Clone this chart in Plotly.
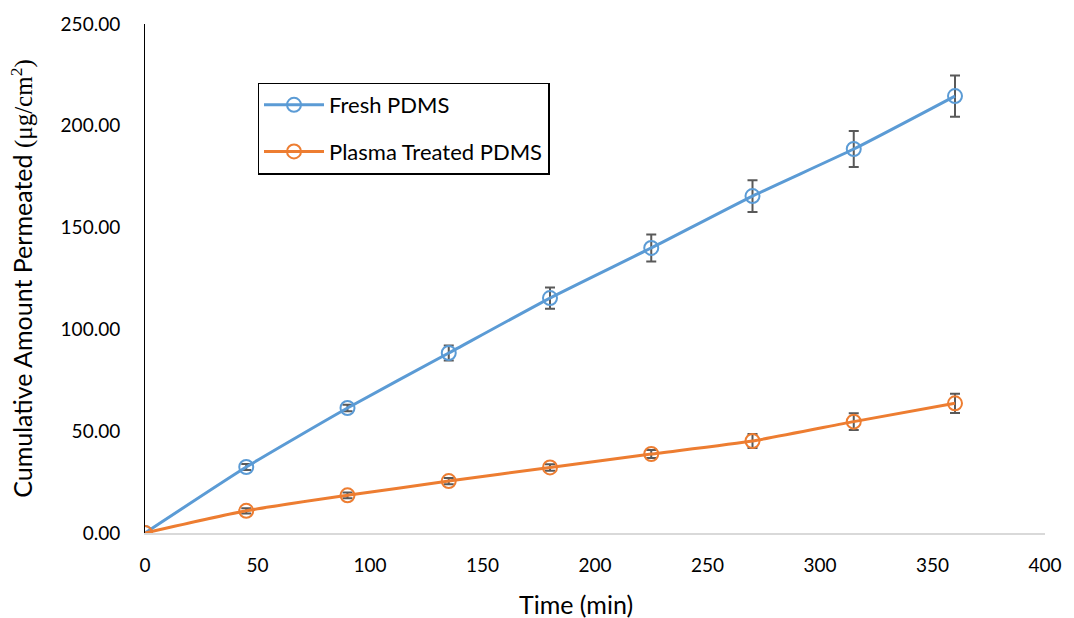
import plotly.graph_objects as go

# Sampling times (min)
time_min = [0, 45, 90, 135, 180, 225, 270, 315, 360]

# Cumulative amount permeated (ug/cm^2) and standard deviations
fresh = [0.0, 32.4, 61.4, 88.4, 115.4, 140.0, 165.5, 188.6, 214.6]
fresh_err = [0.0, 1.5, 1.6, 3.7, 5.2, 6.6, 7.8, 8.8, 10.1]

plasma = [0.0, 10.9, 18.5, 25.5, 32.2, 38.8, 45.2, 54.7, 63.7]
plasma_err = [0.0, 1.3, 1.4, 1.5, 1.6, 2.0, 3.4, 4.1, 4.7]

x_ticks = [0, 50, 100, 150, 200, 250, 300, 350, 400]
y_ticks = [0, 50, 100, 150, 200, 250]

FONT = "Lato, 'Open Sans', sans-serif"
ERR_COLOR = "#595959"


def series(name, y, err, color):
    return go.Scatter(
        x=time_min,
        y=y,
        name=name,
        legendgroup=name,
        mode="lines+markers",
        line=dict(color=color, width=3, shape="spline", smoothing=0.5),
        marker=dict(symbol="circle-open", size=14, color=color,
                    line=dict(width=2, color=color)),
        error_y=dict(type="data", array=err, visible=True,
                     color=ERR_COLOR, thickness=2, width=5),
    )


fig = go.Figure()
fig.add_trace(series("Fresh PDMS", fresh, fresh_err, "#5B9BD5"))
fig.add_trace(series("Plasma Treated PDMS", plasma, plasma_err, "#ED7D31"))

fig.update_layout(
    width=1074,
    height=618,
    paper_bgcolor="white",
    plot_bgcolor="white",
    margin=dict(l=145, r=29, t=24, b=85),
    font=dict(family=FONT, size=19, color="#000000"),
    legend=dict(
        x=0.125, y=0.885, xanchor="left", yanchor="top",
        bordercolor="#000000", borderwidth=1.5, bgcolor="white",
        font=dict(size=22),
        itemwidth=60,
        tracegroupgap=15,
    ),
    xaxis=dict(
        range=[0, 400],
        tickvals=x_ticks,
        ticktext=[str(v) for v in x_ticks],
        showgrid=False,
        zeroline=False,
        showline=True,
        linecolor="#D9D9D9",
        linewidth=1.5,
        ticks="",
        ticklabelstandoff=14,
        automargin=False,
    ),
    yaxis=dict(
        range=[0, 250],
        tickvals=y_ticks,
        ticktext=[f"{v:.2f}" for v in y_ticks],
        showgrid=False,
        zeroline=False,
        showline=True,
        linecolor="#000000",
        linewidth=1,
        ticks="",
        ticklabelstandoff=20,
        automargin=False,
        title=dict(
            text="Cumulative Amount Permeated "
                 "<span style='font-family:\"Liberation Serif\", serif'>(μg/cm<sup>2</sup>)</span>",
            standoff=20,
            font=dict(size=25),
        ),
    ),
    annotations=[
        dict(
            text="Time (min)",
            xref="paper", yref="paper",
            x=0.479, y=-0.139,
            xanchor="center", yanchor="middle",
            showarrow=False,
            font=dict(size=25),
        )
    ],
)

fig.write_html("out.html")
